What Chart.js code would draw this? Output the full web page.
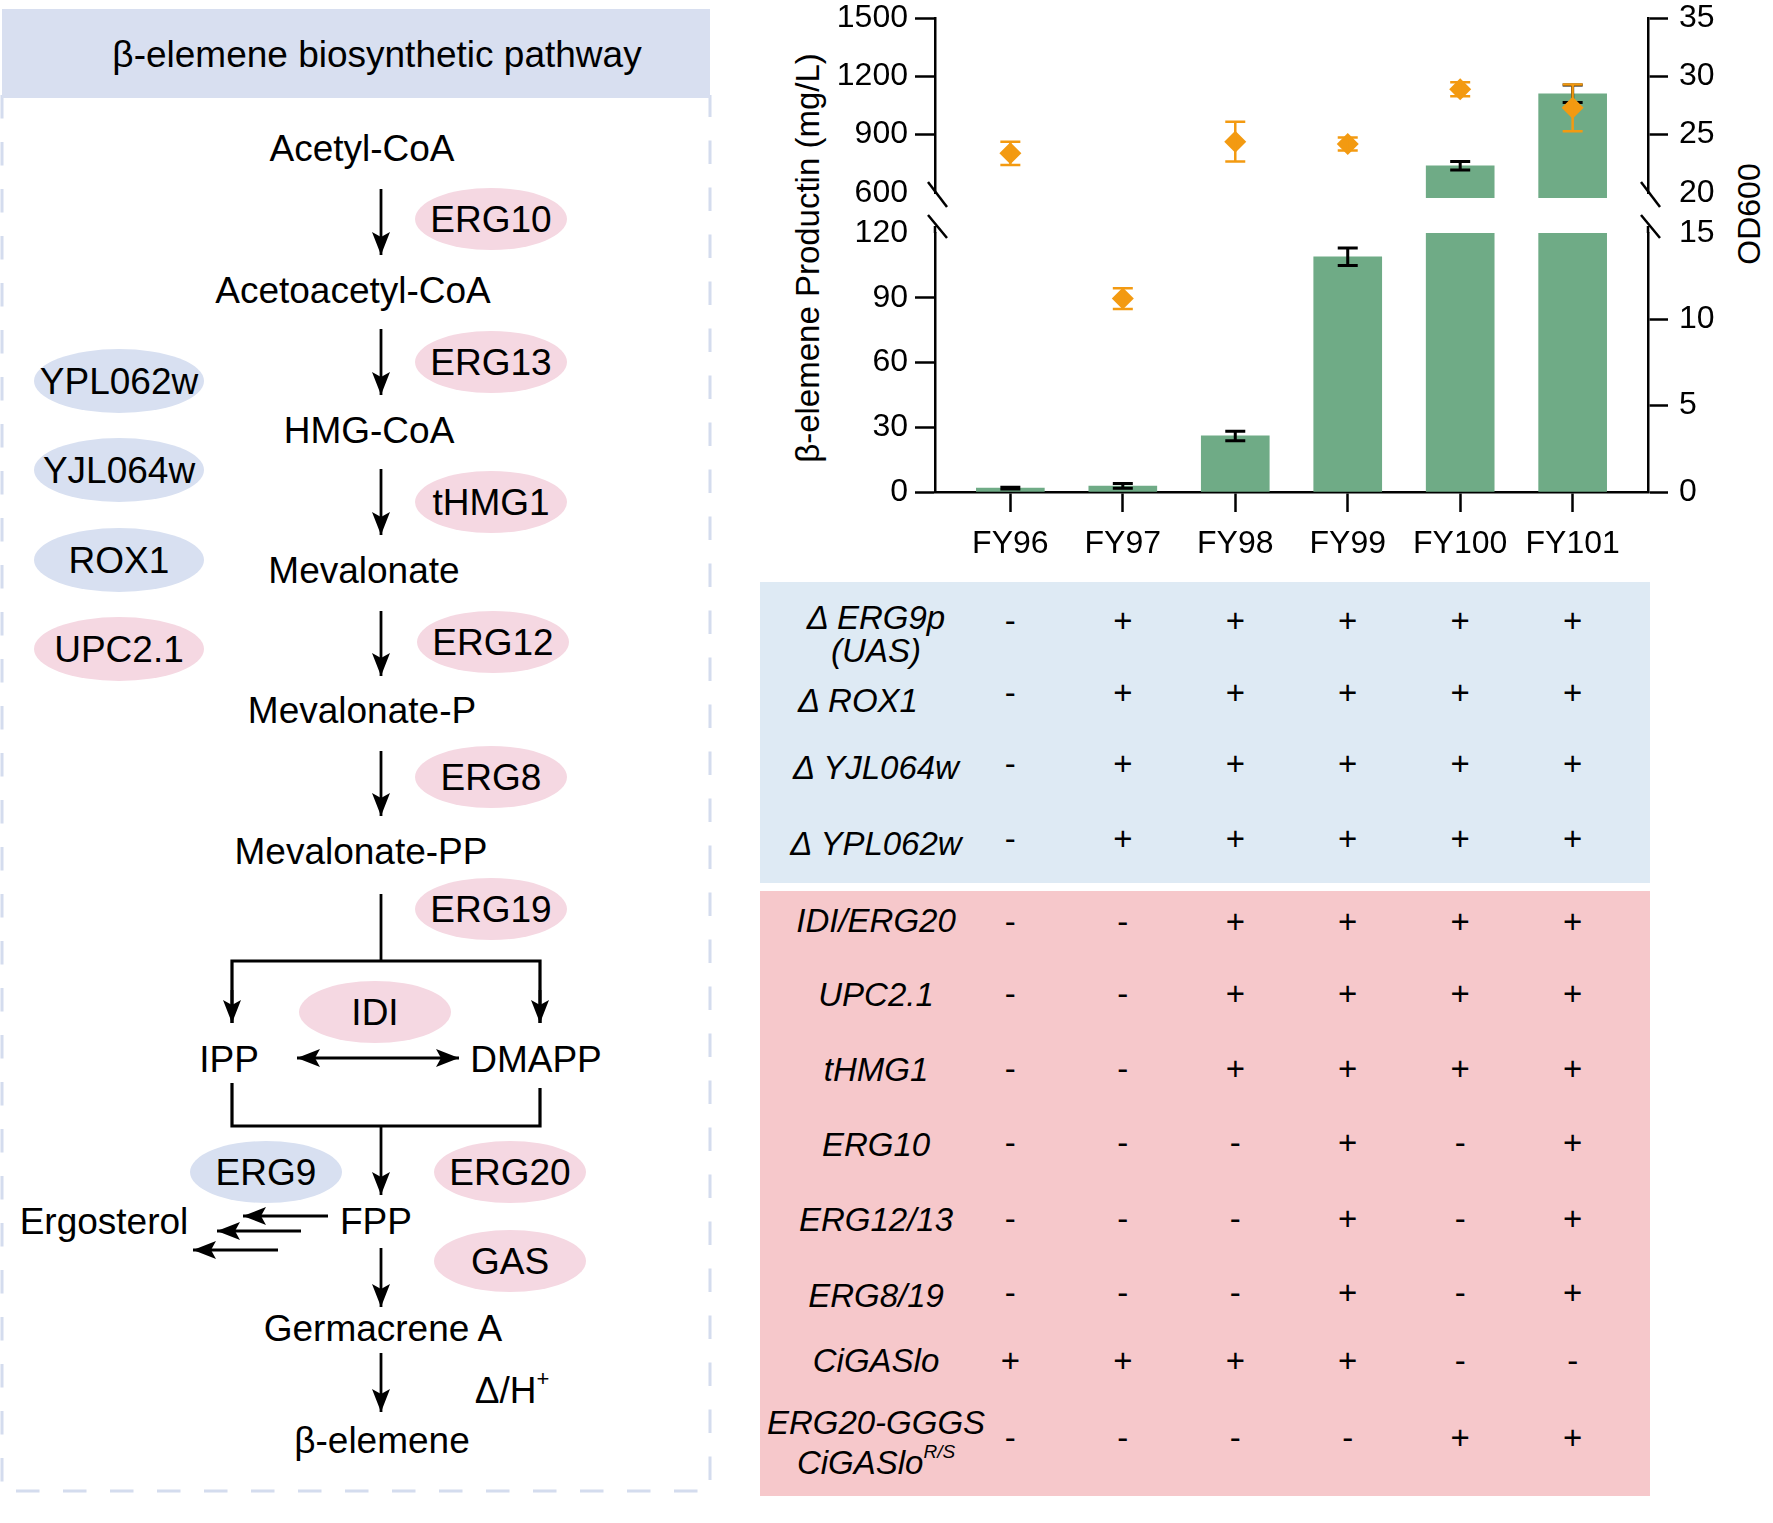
<!DOCTYPE html>
<html>
<head>
<meta charset="utf-8">
<script src="https://cdn.jsdelivr.net/npm/chart.js@4.4.0/dist/chart.umd.min.js"></script>
<style>
  body { margin: 0; background: #fff; }
  #fig { position: relative; width: 1773px; height: 1523px; font-family: "Liberation Sans", Arial, sans-serif; }
  #fig svg { position: absolute; left: 0; top: 0; }
  canvas { position: absolute; }
</style>
</head>
<body>
<div id="fig">
<svg id="panel" width="1773" height="1523" font-family="Liberation Sans, Arial, sans-serif">
  <defs>
    <marker id="head" markerUnits="userSpaceOnUse" markerWidth="24" markerHeight="18" refX="23" refY="9" orient="auto-start-reverse">
      <path d="M0,0 L23,9 L0,18 L5,9 Z" fill="#000"/>
    </marker>
  </defs>

  <!-- pathway panel frame -->
  <path d="M2,95 V1491 H710 V95" fill="none" stroke="#d4dcee" stroke-width="3" stroke-dasharray="23.5 23.5"/>
  <rect x="2" y="9" width="708" height="89" fill="#d8dff0"/>
  <text x="377" y="54" font-size="37" text-anchor="middle" dominant-baseline="central">β-elemene biosynthetic pathway</text>

  <!-- enzyme ellipses -->
  <g fill="#f5d8e2">
    <ellipse cx="491" cy="219" rx="76" ry="31"/>
    <ellipse cx="491" cy="362" rx="76" ry="31"/>
    <ellipse cx="491" cy="502" rx="76" ry="31"/>
    <ellipse cx="493" cy="642" rx="76" ry="31"/>
    <ellipse cx="491" cy="777" rx="76" ry="31"/>
    <ellipse cx="491" cy="909" rx="76" ry="31"/>
    <ellipse cx="375" cy="1012" rx="76" ry="31"/>
    <ellipse cx="510" cy="1172" rx="76" ry="31"/>
    <ellipse cx="510" cy="1261" rx="76" ry="31"/>
    <ellipse cx="119" cy="649" rx="85" ry="32"/>
  </g>
  <g fill="#d8e0f1">
    <ellipse cx="119" cy="381" rx="85" ry="32"/>
    <ellipse cx="119" cy="470" rx="85" ry="32"/>
    <ellipse cx="119" cy="560" rx="85" ry="32"/>
    <ellipse cx="266" cy="1172" rx="76" ry="31"/>
  </g>

  <g font-size="37" text-anchor="middle" dominant-baseline="central">
    <text x="491" y="219">ERG10</text>
    <text x="491" y="362">ERG13</text>
    <text x="491" y="502">tHMG1</text>
    <text x="493" y="642">ERG12</text>
    <text x="491" y="777">ERG8</text>
    <text x="491" y="909">ERG19</text>
    <text x="375" y="1012">IDI</text>
    <text x="510" y="1172">ERG20</text>
    <text x="510" y="1261">GAS</text>
    <text x="119" y="381">YPL062w</text>
    <text x="119" y="470">YJL064w</text>
    <text x="119" y="560">ROX1</text>
    <text x="119" y="649">UPC2.1</text>
    <text x="266" y="1172">ERG9</text>

    <text x="362" y="148">Acetyl-CoA</text>
    <text x="353" y="290">Acetoacetyl-CoA</text>
    <text x="369" y="430">HMG-CoA</text>
    <text x="364" y="570">Mevalonate</text>
    <text x="362" y="710">Mevalonate-P</text>
    <text x="361" y="851">Mevalonate-PP</text>
    <text x="229" y="1059">IPP</text>
    <text x="536" y="1059">DMAPP</text>
    <text x="376" y="1221">FPP</text>
    <text x="104" y="1221">Ergosterol</text>
    <text x="383" y="1328">Germacrene A</text>
    <text x="382" y="1440">β-elemene</text>
    <text x="512" y="1390">Δ/H<tspan font-size="22" dy="-12">+</tspan></text>
  </g>

  <!-- arrows -->
  <g stroke="#000" stroke-width="2.8" fill="none">
    <line x1="381" y1="189" x2="381" y2="255" marker-end="url(#head)"/>
    <line x1="381" y1="329" x2="381" y2="395" marker-end="url(#head)"/>
    <line x1="381" y1="469" x2="381" y2="535" marker-end="url(#head)"/>
    <line x1="381" y1="611" x2="381" y2="676" marker-end="url(#head)"/>
    <line x1="381" y1="751" x2="381" y2="816" marker-end="url(#head)"/>
    <line x1="381" y1="894" x2="381" y2="961"/>
    <polyline points="232,1023 232,961 540,961 540,1023" stroke-width="3.2"/>
    <line x1="232" y1="990" x2="232" y2="1023" marker-end="url(#head)"/>
    <line x1="540" y1="990" x2="540" y2="1023" marker-end="url(#head)"/>
    <line x1="297" y1="1058" x2="459" y2="1058" marker-start="url(#head)" marker-end="url(#head)"/>
    <polyline points="232,1083 232,1126 540,1126 540,1088" stroke-width="3.2"/>
    <line x1="381" y1="1126" x2="381" y2="1195" marker-end="url(#head)"/>
    <line x1="328" y1="1216" x2="243" y2="1216" marker-end="url(#head)"/>
    <line x1="301" y1="1231" x2="217" y2="1231" marker-end="url(#head)"/>
    <line x1="278" y1="1250" x2="193" y2="1250" marker-end="url(#head)"/>
    <line x1="381" y1="1248" x2="381" y2="1307" marker-end="url(#head)"/>
    <line x1="381" y1="1353" x2="381" y2="1412" marker-end="url(#head)"/>
  </g>

  <!-- strain table backgrounds -->
  <rect x="760" y="582" width="890" height="301" fill="#deeaf4"/>
  <rect x="760" y="891" width="890" height="605" fill="#f6c8cb"/>
  <g id="tableText" font-size="33" text-anchor="middle" dominant-baseline="central"></g>

  <!-- axis titles -->
  <text transform="translate(807,258) rotate(-90)" font-size="33" text-anchor="middle" dominant-baseline="central">β-elemene Productin (mg/L)</text>
  <text transform="translate(1749,214) rotate(-90)" font-size="32" text-anchor="middle" dominant-baseline="central">OD600</text>
</svg>

<canvas id="upper" width="1073" height="215" style="left:700px; top:0px;"></canvas>
<canvas id="lower" width="1073" height="372" style="left:700px; top:200px;"></canvas>
</div>

<script>
// strains and measurements
var strains = ['FY96', 'FY97', 'FY98', 'FY99', 'FY100', 'FY101'];
var production = [1.8, 2.8, 26, 109, 740, 1110];     // mg/L
var productionSd = [0.4, 1.1, 2.2, 4, 22, 45];
var od600 = [23.4, 11.2, 24.4, 24.2, 28.9, 27.3];
var od600Sd = [1.0, 0.6, 1.7, 0.55, 0.6, 2.0];

// broken axes: [min, max, step]
var prodUpper = [600, 1500, 300];
var prodLower = [0, 120, 30];
var odUpper = [20, 35, 5];
var odLower = [0, 15, 5];

// genotype table
var deletionLabels = [['Δ ERG9p', '(UAS)'], ['Δ ROX1'], ['Δ YJL064w'], ['Δ YPL062w']];
var deletionMarks = ['-+++++', '-+++++', '-+++++', '-+++++'];
var overLabels = [['IDI/ERG20'], ['UPC2.1'], ['tHMG1'], ['ERG10'], ['ERG12/13'], ['ERG8/19'], ['CiGASlo'], ['ERG20-GGGS', 'CiGASlo']];
var overMarks = ['--++++', '--++++', '--++++', '---+-+', '---+-+', '---+-+', '++++--', '----++'];

var green = '#6fab86';
var orange = '#f39a11';

Chart.defaults.font.family = '"Liberation Sans", Arial, sans-serif';
Chart.defaults.color = '#000';

var errorBars = {
    id: 'errorBars',
    afterDatasetDraw: function(chart, args) {
        var ds = chart.data.datasets[args.index];
        if (!ds.sd) return;
        var ys = chart.scales[ds.yAxisID], xs = chart.scales.x;
        var a = chart.chartArea, ctx = chart.ctx;
        ctx.save();
        ctx.beginPath();
        ctx.rect(a.left, a.top - 2, a.right - a.left, a.bottom - a.top + 4);
        ctx.clip();
        ctx.strokeStyle = ds.sdColor;
        ctx.lineWidth = ds.sdWidth;
        ds.data.forEach(function(p, i) {
            var x = xs.getPixelForValue(p.x);
            var y1 = ys.getPixelForValue(p.y - ds.sd[i]);
            var y2 = ys.getPixelForValue(p.y + ds.sd[i]);
            ctx.beginPath();
            ctx.moveTo(x, y1); ctx.lineTo(x, y2);
            ctx.moveTo(x - 10, y1); ctx.lineTo(x + 10, y1);
            ctx.moveTo(x - 10, y2); ctx.lineTo(x + 10, y2);
            ctx.stroke();
        });
        ctx.restore();
    }
};

var axisBreak = {
    id: 'axisBreak',
    afterDraw: function(chart, args, o) {
        var a = chart.chartArea, ctx = chart.ctx;
        ctx.save();
        ctx.strokeStyle = '#000';
        ctx.lineWidth = 2.5;
        [a.left, a.right].forEach(function(x) {
            ctx.beginPath();
            if (o.at === 'bottom') {
                ctx.moveTo(x - 7, a.bottom - 11); ctx.lineTo(x + 12, a.bottom + 14);
            } else {
                ctx.moveTo(x - 7, a.top - 18); ctx.lineTo(x + 12, a.top + 5);
                ctx.moveTo(x, a.top - 7); ctx.lineTo(x, a.top);
            }
            ctx.stroke();
        });
        ctx.restore();
    }
};

function yScale(pos, range, width, hideTick, pad) {
    return {
        position: pos, min: range[0], max: range[1],
        ticks: { stepSize: range[2], font: { size: 32 }, color: '#000', padding: pad, autoSkip: false,
                 callback: function(v) { return String(v); } },
        grid: {
            drawOnChartArea: false, drawTicks: true, tickLength: 20, tickWidth: 2.5,
            tickColor: function(c) { return c.tick && c.tick.value === hideTick ? 'rgba(0,0,0,0)' : '#000'; }
        },
        border: { display: true, color: '#000', width: 2.5 },
        afterFit: function(s) { s.width = width; s.paddingTop = 0; s.paddingBottom = 0; }
    };
}

function makeChart(id, pRange, oRange, showX, breakAt, hideP, hideO, pad, barClip) {
    return new Chart(document.getElementById(id), {
        type: 'bar',
        data: {
            datasets: [{
                type: 'line',
                data: strains.map(function(s, i) { return { x: i, y: od600[i] }; }),
                yAxisID: 'y2', showLine: false,
                pointStyle: 'rectRot', pointRadius: 11, pointBorderWidth: 0,
                pointBackgroundColor: orange,
                clip: 0, order: 0,
                sd: od600Sd, sdColor: orange, sdWidth: 2.5
            }, {
                type: 'bar',
                data: strains.map(function(s, i) { return { x: i, y: production[i] }; }),
                yAxisID: 'y', backgroundColor: green, barThickness: 68,
                clip: barClip, order: 1,
                sd: productionSd, sdColor: '#000', sdWidth: 3
            }]
        },
        options: {
            responsive: false, animation: false,
            layout: { padding: pad },
            plugins: { legend: { display: false }, tooltip: { enabled: false }, axisBreak: { at: breakAt } },
            scales: {
                x: {
                    type: 'linear', display: showX, min: -0.67, max: 5.67, offset: false,
                    afterBuildTicks: function(s) { s.ticks = strains.map(function(_, i) { return { value: i }; }); },
                    ticks: { callback: function(v) { return strains[v]; }, font: { size: 32 }, color: '#000',
                             padding: 13, maxRotation: 0, autoSkip: false },
                    grid: { offset: false, drawOnChartArea: false, drawTicks: true, tickLength: 20, tickWidth: 2.5, tickColor: '#000' },
                    border: { display: true, color: '#000', width: 2.5 },
                    afterFit: function(s) {
                        if (!showX) return;
                        s.height = 80; s.paddingLeft = 0; s.paddingRight = 0;
                    }
                },
                y: yScale('left', pRange, 235, hideP, 7),
                y2: yScale('right', oRange, 125, hideO, 11)
            }
        },
        plugins: [errorBars, axisBreak]
    });
}

var upperChart = makeChart('upper', prodUpper, odUpper, false, 'bottom', 600, 20,
    { top: 18, bottom: 22, left: 0, right: 0 }, { left: 0, top: 0, right: 0, bottom: 5 });
var lowerChart = makeChart('lower', prodLower, odLower, true, 'top', 120, 15,
    { top: 33, bottom: 0, left: 0, right: 0 }, 0);

// genotype table text, columns aligned with the strain axis
var NS = 'http://www.w3.org/2000/svg';
var tbl = document.getElementById('tableText');
var colX = strains.map(function(_, i) { return 700 + lowerChart.scales.x.getPixelForValue(i); });

function addText(x, y, str, italic) {
    var t = document.createElementNS(NS, 'text');
    t.setAttribute('x', x);
    t.setAttribute('y', y);
    if (italic) t.setAttribute('font-style', 'italic');
    t.textContent = str;
    tbl.appendChild(t);
    return t;
}

function addRows(labels, marks, rowY, labelY) {
    labels.forEach(function(lines, r) {
        lines.forEach(function(line, k) {
            var lx = line === 'Δ ROX1' ? 858 : 876;
            var t = addText(lx, labelY[r][k], line, true);
            if (line === 'CiGASlo' && lines.length > 1) {
                var sup = document.createElementNS(NS, 'tspan');
                sup.setAttribute('font-size', '19');
                sup.setAttribute('dy', '-11');
                sup.textContent = 'R/S';
                t.appendChild(sup);
            }
        });
        marks[r].split('').forEach(function(m, c) {
            addText(colX[c], rowY[r], m, false);
        });
    });
}

addRows(deletionLabels, deletionMarks, [620, 692, 763, 838], [[617, 650], [700], [767], [843]]);
addRows(overLabels, overMarks, [921, 993, 1068, 1142, 1218, 1292, 1360, 1437],
    [[920], [994], [1069], [1144], [1219], [1295], [1360], [1422, 1462]]);
</script>
</body>
</html>
